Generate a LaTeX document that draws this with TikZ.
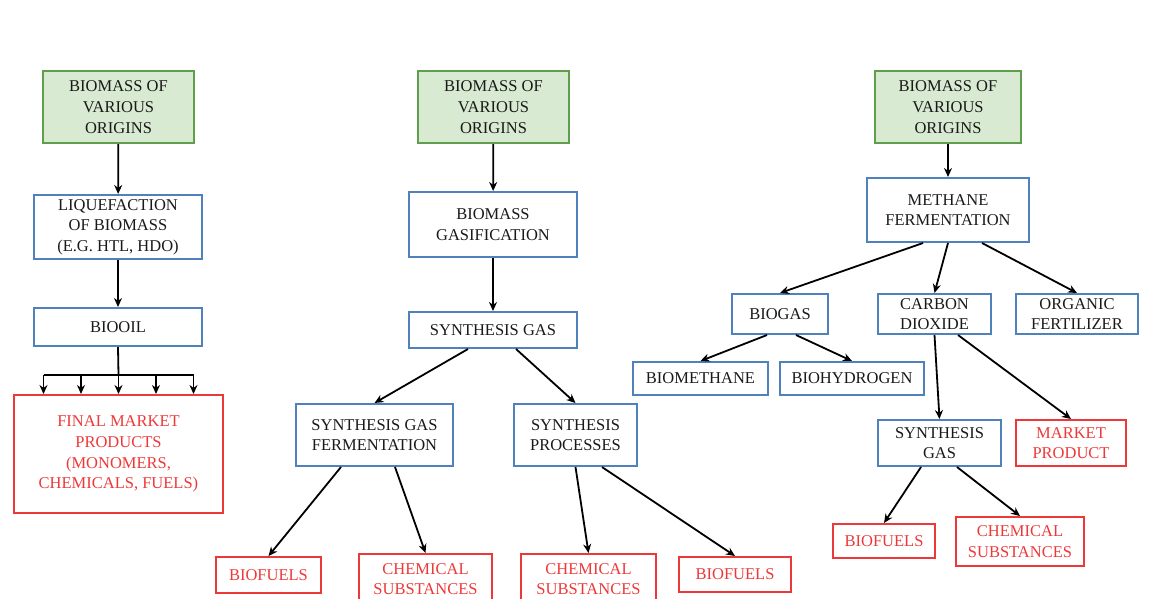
\documentclass[tikz,border=0pt]{standalone}
\usepackage{fontspec}
\setmainfont{Liberation Serif}
\usepackage{xcolor}
\usetikzlibrary{arrows.meta}
\tikzset{>={Stealth[length=9pt,width=8pt]}}
\definecolor{srcfill}{HTML}{D9EAD3}
\definecolor{srcline}{HTML}{5E9E4C}
\definecolor{stepline}{HTML}{4F81BD}
\definecolor{prodred}{HTML}{EE3838}

\begin{document}
\begin{tikzpicture}
	[x=1pt,y=-1pt,inner sep=0pt,line width=2pt,
	box/.style={rectangle,draw,align=center,font=\rmfamily\fontsize{16.5}{20.7}\selectfont},
	source/.style={box,draw=srcline,fill=srcfill,text=black!90,minimum width=151pt,minimum height=72pt},
	stepbox/.style={box,draw=stepline,text=black!90},
	product/.style={box,draw=prodred,text=prodred},
	link/.style={->,draw=black,line width=1.8pt}]
	\useasboundingbox (0,0) rectangle (1161,598);
	\node [source] (bm1) at (118.5,107) {BIOMASS OF\\VARIOUS\\ORIGINS};
	\node [stepbox,minimum width=168pt,minimum height=64pt] (liq) at (118,227) {LIQUEFACTION\\OF BIOMASS\\(E.G. HTL, HDO)};
	\node [stepbox,minimum width=168pt,minimum height=38pt] (oil) at (118,327) {BIOOIL};
	\node [product,minimum width=209pt,minimum height=118pt] (prod) at (118.5,454) {FINAL MARKET\\PRODUCTS\\(MONOMERS,\\CHEMICALS, FUELS)};
	\coordinate (bus) at (118.5,375);
	\draw [link] (bm1) -- (liq);
	\draw [link] (liq) -- (oil);
	\draw [link,-] (oil.south) -- (bus);
	\draw [link,-] ([xshift=-75]bus) -- ([xshift=75]bus);
	\foreach \dx in {-75,-37.5,0,37.5,75}
		\draw [link] ([xshift=\dx]bus) -- ([xshift=\dx]prod.north);
	\node [source] (bm2) at (493.5,107) {BIOMASS OF\\VARIOUS\\ORIGINS};
	\node [stepbox,minimum width=168pt,minimum height=65pt] (gasf) at (493,224.5) {BIOMASS\\GASIFICATION};
	\node [stepbox,minimum width=168pt,minimum height=36pt] (sg) at (493,330) {SYNTHESIS GAS};
	\node [stepbox,minimum width=157pt,minimum height=62pt] (sgf) at (374.5,435) {SYNTHESIS GAS\\FERMENTATION};
	\node [stepbox,minimum width=123pt,minimum height=62pt] (sp) at (575.5,435) {SYNTHESIS\\PROCESSES};
	\node [product,minimum width=105pt,minimum height=36pt] (bf1) at (268.5,575) {BIOFUELS};
	\node [product,minimum width=133pt,minimum height=50pt] (cs1) at (425.5,579) {CHEMICAL\\SUBSTANCES};
	\node [product,minimum width=135pt,minimum height=50pt] (cs2) at (588.5,579) {CHEMICAL\\SUBSTANCES};
	\node [product,minimum width=112pt,minimum height=35pt] (bf2) at (735,574.5) {BIOFUELS};
	\draw [link] (bm2) -- (gasf);
	\draw [link] (gasf) -- (sg);
	\draw [link] ([xshift=-25]sg.south) -- (sgf.north);
	\draw [link] ([xshift=23]sg.south) -- (sp.north);
	\draw [link] ([xshift=-33.5]sgf.south) -- (bf1.north);
	\draw [link] ([xshift=20.5]sgf.south) -- (cs1.north);
	\draw [link] (sp.south) -- (cs2.north);
	\draw [link] ([xshift=26.5]sp.south) -- (bf2.north);
	\node [source,minimum width=146pt] (bm3) at (948,107) {BIOMASS OF\\VARIOUS\\ORIGINS};
	\node [stepbox,minimum width=162pt,minimum height=64pt] (mf) at (948,210) {METHANE\\FERMENTATION};
	\node [stepbox,minimum width=96pt,minimum height=40pt] (bgas) at (780,314) {BIOGAS};
	\node [stepbox,minimum width=113pt,minimum height=40pt] (co2) at (934.5,314) {CARBON\\DIOXIDE};
	\node [stepbox,minimum width=122pt,minimum height=40pt] (fert) at (1077,314) {ORGANIC\\FERTILIZER};
	\node [stepbox,minimum width=135pt,minimum height=33pt] (bmeth) at (700.5,378.5) {BIOMETHANE};
	\node [stepbox,minimum width=144pt,minimum height=33pt] (bhyd) at (852,378.5) {BIOHYDROGEN};
	\node [stepbox,minimum width=123pt,minimum height=46pt] (sg3) at (939.5,443) {SYNTHESIS\\GAS};
	\node [product,minimum width=110pt,minimum height=46pt] (mkt) at (1071,443) {MARKET\\PRODUCT};
	\node [product,minimum width=102pt,minimum height=34pt] (bf3) at (884,541) {BIOFUELS};
	\node [product,minimum width=128pt,minimum height=49pt] (cs3) at (1020,541.5) {CHEMICAL\\SUBSTANCES};
	\draw [link] (bm3) -- (mf);
	\draw [link] ([xshift=-25]mf.south) -- (bgas.north);
	\draw [link] (mf.south) -- (co2.north);
	\draw [link] ([xshift=34]mf.south) -- (fert.north);
	\draw [link] ([xshift=-13]bgas.south) -- (bmeth.north);
	\draw [link] ([xshift=16]bgas.south) -- (bhyd.north);
	\draw [link] (co2.south) -- (sg3.north);
	\draw [link] ([xshift=23.5]co2.south) -- (mkt.north);
	\draw [link] ([xshift=-18.5]sg3.south) -- (bf3.north);
	\draw [link] ([xshift=17.5]sg3.south) -- (cs3.north);
\end{tikzpicture}
\end{document}
